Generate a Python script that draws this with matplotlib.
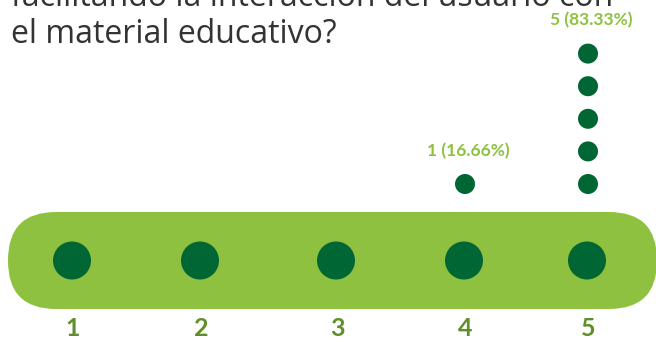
import matplotlib.pyplot as plt
from matplotlib.patches import FancyBboxPatch, Circle

# answers on the 1-5 scale and how many people picked each one
scale = ["1", "2", "3", "4", "5"]
counts = [0, 0, 0, 1, 5]
pct_labels = ["", "", "", "1 (16.66%)", "5 (83.33%)"]
question = ["facilitando la interacción del usuario con", "el material educativo?"]

# colours
LIGHT = "#8dc13f"
DARK = "#006633"
OLIVE = "#5e8f28"
TEXT = "#333333"

W, H = 656, 342
fig = plt.figure(figsize=(W / 100, H / 100), dpi=100)
ax = fig.add_axes([0, 0, 1, 1])
ax.set_xlim(0, W)
ax.set_ylim(H, 0)
ax.axis("off")

slot_x = [72, 200, 336, 464, 587]
bar_top, bar_h = 212, 97
bar_mid = bar_top + bar_h / 2

# the rounded bar holding the scale
bar = FancyBboxPatch((8, bar_top), 649, bar_h,
                     boxstyle="round,pad=0,rounding_size=48",
                     fc=LIGHT, ec="none")
ax.add_patch(bar)

for x, lab in zip(slot_x, scale):
    ax.add_patch(Circle((x, bar_mid), 19, fc=DARK, ec="none"))
    ax.text(x + 1, 329, lab, ha="center", va="center", fontsize=18,
            fontweight="bold", color=OLIVE, family="Lato")

# stacked dots, one per answer
step = 32.6
for x, n, lab in zip(slot_x, counts, pct_labels):
    for k in range(n):
        ax.add_patch(Circle((x + 1, 184 - k * step), 10, fc=DARK, ec="none"))
    if n:
        ax.text(x + 4, 184 - (n - 1) * step - 33, lab, ha="center",
                va="center", fontsize=12.5, fontweight="bold",
                color=LIGHT, family="Lato")

# question text, first line runs off the top edge
for i, line in enumerate(question):
    ax.text(11, 6 + 37 * i, line, ha="left", va="baseline", fontsize=23,
            color=TEXT, family="Open Sans")

fig.savefig("out.png", dpi=100)
